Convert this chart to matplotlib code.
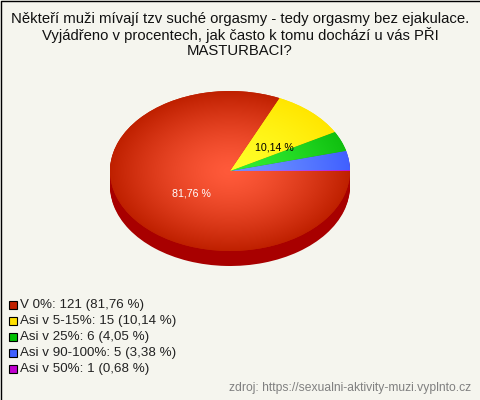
import numpy as np
import matplotlib
matplotlib.use('Agg')
import matplotlib.pyplot as plt
from matplotlib.colors import to_rgb
from matplotlib.patches import Rectangle

plt.rcParams['font.family'] = ['Liberation Sans', 'DejaVu Sans']

title_lines = ["Někteří muži mívají tzv suché orgasmy - tedy orgasmy bez ejakulace.",
               "Vyjádřeno v procentech, jak často k tomu dochází u vás PŘI",
               "MASTURBACI?"]
categories = ["V 0%", "Asi v 5-15%", "Asi v 25%", "Asi v 90-100%", "Asi v 50%"]
counts = [121, 15, 6, 5, 1]
percents = ["81,76", "10,14", "4,05", "3,38", "0,68"]
source = "zdroj: https://sexualni-aktivity-muzi.vyplnto.cz"

edge_colors = ['#bf2000', '#ffe600', '#10c010', '#4060ff', '#c010d0']
inner_colors = ['#ff5a3a', '#ffff28', '#33ee33', '#7095ff', '#ff40ff']
legend_colors = ['#c02000', '#ffe000', '#00c000', '#4060ff', '#c000d0']
side_color = '#a80000'
bg_color = '#f5f5ee'

W, H = 480, 400
cx, cy, rx, ry, depth = 230, 171, 120, 80, 15

fig = plt.figure(figsize=(W / 100, H / 100), dpi=100, facecolor=bg_color)

# vrstva na texty a legendu, souradnice v pixelech
bg = fig.add_axes([0, 0, 1, 1])
bg.set_xlim(0, W)
bg.set_ylim(H, 0)
bg.axis('off')
bg.plot([0.5, 0.5, W], [H, 0.5, 0.5], color='black', lw=1)

for i, line in enumerate(title_lines):
    bg.text(240, 19 + i * 16, line, ha='center', va='center', fontsize=10.7, color='#111111')

for i, cat in enumerate(categories):
    y = 305 + i * 16
    bg.add_patch(Rectangle((9, y - 4), 8, 8, fc=legend_colors[i], ec='black', lw=0.8))
    bg.text(20, y, f"{cat}: {counts[i]} ({percents[i]} %)", ha='left', va='center',
            fontsize=9.6, color='#222222')

bg.text(471, 388.5, source, ha='right', va='center', fontsize=8.7, color='#808080')

# kolac
d = depth / ry
ax = fig.add_axes([(cx - rx) / W, (H - cy - ry - depth) / H, 2 * rx / W, (2 * ry + depth) / H])

for off in np.arange(depth, 0, -1) / ry:
    ax.pie(counts, colors=[side_color] * len(counts), center=(0, -off), radius=1,
           startangle=0, counterclock=False)

wedges, _ = ax.pie(counts, colors=edge_colors, center=(0, 0), radius=1,
                   startangle=0, counterclock=False)

# modra vysec v predloze prekryva fialovou, zbyva z ni jen tenka linka
wedges[3].set_theta1(wedges[4].theta1 + 0.7)

# radialni gradient pro kazdou vysec, od posledni k prvni
xx, yy = np.meshgrid(np.linspace(-1, 1, 480), np.linspace(-1, 1, 320))
rr = np.clip(np.sqrt(xx ** 2 + yy ** 2), 0, 1)[..., None] ** 1.4
for i in range(len(wedges) - 1, -1, -1):
    img = np.array(to_rgb(inner_colors[i])) * (1 - rr) + np.array(to_rgb(edge_colors[i])) * rr
    im = ax.imshow(img, extent=(-1, 1, -1, 1), origin='lower', aspect='auto', zorder=3 + (4 - i))
    im.set_clip_path(wedges[i])

ax.set_aspect('auto')
ax.set_xlim(-1, 1)
ax.set_ylim(-1 - d, 1)
ax.axis('off')

bg.set_zorder(2)
bg.text(191.5, 193, f"{percents[0]} %", ha='center', va='center', fontsize=7.7, color='white')
bg.text(274, 147, f"{percents[1]} %", ha='center', va='center', fontsize=7.7, color='black')

fig.savefig('out.png', dpi=100, facecolor=bg_color)
